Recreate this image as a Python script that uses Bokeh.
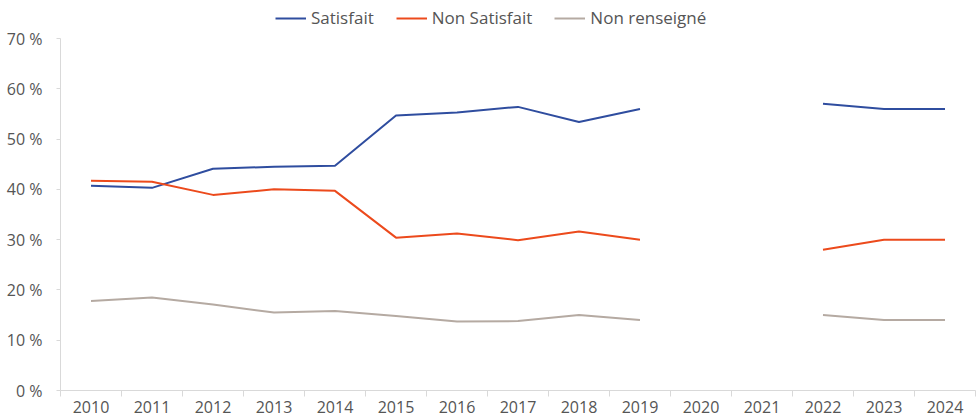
import numpy as np
from bokeh.plotting import figure
from bokeh.models import FixedTicker, Legend, LegendItem, ColumnDataSource
from bokeh.embed import file_html
from bokeh.resources import INLINE

years = ["2010", "2011", "2012", "2013", "2014", "2015", "2016", "2017", "2018", "2019",
         "2020", "2021", "2022", "2023", "2024"]
satisfait = [40.7, 40.3, 44.1, 44.5, 44.7, 54.7, 55.3, 56.4, 53.4, 56.0,
             np.nan, np.nan, 57.0, 56.0, 56.0]
non_satisfait = [41.7, 41.5, 38.9, 40.0, 39.7, 30.4, 31.2, 29.9, 31.6, 30.0,
                 np.nan, np.nan, 28.0, 30.0, 30.0]
non_renseigne = [17.8, 18.5, 17.1, 15.5, 15.8, 14.8, 13.7, 13.8, 15.0, 14.0,
                 np.nan, np.nan, 15.0, 14.0, 14.0]
y_ticks = [0, 10, 20, 30, 40, 50, 60, 70]

FONT = "Open Sans"
TXT = "#555555"

W, H = 978, 417
TOP, BOTTOM = 2, 27
AXIS_TOP_PX = 38   # screen y of the 70 % tick
LEGEND_BOTTOM_PX = 29
frame_h = H - TOP - BOTTOM
axis_h = H - BOTTOM - AXIS_TOP_PX
y_end = max(y_ticks) * frame_h / axis_h

xpos = list(range(1, len(years) + 1))
src = ColumnDataSource(dict(x=xpos, s=satisfait, n=non_satisfait, r=non_renseigne))

p = figure(width=W, height=H, output_backend="svg", toolbar_location=None,
           x_range=(0.5, len(years) + 0.5), y_range=(0, y_end),
           min_border_left=60, min_border_right=3, min_border_top=TOP,
           min_border_bottom=BOTTOM)
p.outline_line_color = None
p.xgrid.visible = False
p.ygrid.visible = False
p.background_fill_color = "white"
p.border_fill_color = "white"

r1 = p.line("x", "s", source=src, line_color="#2F4D9F", line_width=2)
r2 = p.line("x", "n", source=src, line_color="#EC4A1C", line_width=2)
r3 = p.line("x", "r", source=src, line_color="#B5AAA2", line_width=2)

# x axis
xa = p.xaxis[0]
xa.ticker = FixedTicker(ticks=xpos, minor_ticks=[i + 0.5 for i in range(0, len(years) + 1)])
xa.major_label_overrides = {i: y for i, y in zip(xpos, years)}
xa.major_tick_line_color = None
xa.minor_tick_line_color = "#D9D9D9"
xa.minor_tick_out = 6
xa.minor_tick_in = 0
xa.axis_line_color = "#D9D9D9"
xa.axis_line_width = 1
xa.major_label_text_font = FONT
xa.major_label_text_font_size = "16px"
xa.major_label_text_color = TXT
xa.major_label_standoff = 4

# y axis
ya = p.yaxis[0]
ya.ticker = FixedTicker(ticks=y_ticks, minor_ticks=[])
ya.bounds = (0, max(y_ticks))
ya.major_label_overrides = {t: f"{t} %" for t in y_ticks}
ya.major_tick_line_color = "#D9D9D9"
ya.major_tick_out = 4
ya.major_tick_in = 0
ya.minor_tick_line_color = None
ya.axis_line_color = "#D9D9D9"
ya.major_label_text_font = FONT
ya.major_label_text_font_size = "16px"
ya.major_label_text_color = TXT
ya.major_label_standoff = 14

legend = Legend(items=[LegendItem(label="Satisfait", renderers=[r1]),
                       LegendItem(label="Non Satisfait", renderers=[r2]),
                       LegendItem(label="Non renseigné", renderers=[r3])],
                orientation="horizontal",
                location=(215, frame_h - (LEGEND_BOTTOM_PX - TOP)),
                padding=0, margin=0, spacing=22, glyph_width=31, glyph_height=20,
                label_height=20, label_standoff=5, label_text_font=FONT,
                label_text_font_size="17px",
                label_text_color=TXT, border_line_color=None, background_fill_alpha=0)
p.add_layout(legend, "center")

open("out.html", "w").write(file_html(p, INLINE))
